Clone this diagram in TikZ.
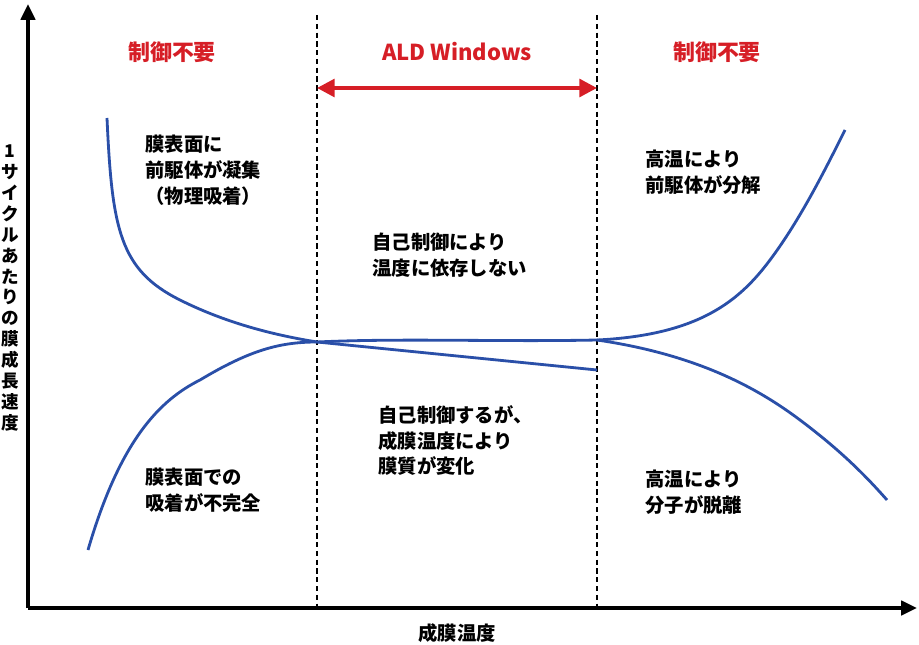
\documentclass[tikz,border=0pt]{standalone}
\usepackage{fontspec}
\setmainfont{Noto Sans CJK JP}
\usetikzlibrary{arrows.meta}
\definecolor{curveblue}{RGB}{42,79,168}
\definecolor{ctrlred}{RGB}{214,30,38}
\begin{document}
\begin{tikzpicture}[x=0.02cm,y=-0.02cm,
	axis/.style={line width=2.2pt,-{Triangle[length=9pt,width=8pt]}},
	window/.style={densely dashed,line width=0.8pt},
	curve/.style={curveblue,line width=1.6pt},
	note/.style={align=left,anchor=north west,font=\fontsize{11}{14.7}\selectfont\bfseries,inner sep=0pt},
	head/.style={ctrlred,font=\fontsize{12.5}{14}\selectfont\bfseries}]
\useasboundingbox (0,0) rectangle (919,645);
% axes
\coordinate (O) at (28,608);
\coordinate (Ytop) at (28,4);
\coordinate (Xend) at (917,608);
\draw[axis] (O) -- (Ytop);
\draw[axis] (O) -- (Xend);
% window borders
\coordinate (L1) at (317,15);
\coordinate (L2) at (317,608);
\coordinate (R1) at (597,15);
\coordinate (R2) at (597,608);
\draw[window] (L1) -- (L2);
\draw[window] (R1) -- (R2);
\coordinate (WA) at (317,88);
\coordinate (WB) at (597,88);
\draw[ctrlred,line width=2.2pt,{Triangle[length=10pt,width=10pt]}-{Triangle[length=10pt,width=10pt]}] (WA) -- (WB);
% labels
\node[head] (h1) at (172,52) {制御不要};
\node[head] (h2) at (457,52) {ALD Windows};
\node[head] (h3) at (717,52) {制御不要};
\node[align=center,font=\fontsize{10}{11.9}\selectfont\bfseries] (ylab) at (10,288)
	{1\\サ\\イ\\ク\\ル\\あ\\た\\り\\の\\膜\\成\\長\\速\\度};
\node[font=\fontsize{11}{13}\selectfont\bfseries] (xlab) at (457,633) {成膜温度};
% curves
\coordinate (P) at (317,342);
\coordinate (Q) at (597,340);
\draw[curve] (107,118) .. controls (112,230) and (120,270) .. (180,300)
	.. controls (230,325) and (280,336) .. (P) -- (597,370);
\draw[curve] (88,550) .. controls (120,440) and (160,400) .. (200,380)
	.. controls (250,350) and (280,342) .. (P);
\draw[curve] (P) .. controls (400,338) and (500,342) .. (Q);
\draw[curve] (Q) .. controls (700,335) and (740,300) .. (770,260)
	.. controls (800,220) and (825,170) .. (845,130);
\draw[curve] (Q) .. controls (700,355) and (760,390) .. (800,420)
	.. controls (840,450) and (865,475) .. (887,500);
% notes
\node[note] (n1) at (145,135) {膜表面に\\前駆体が凝集\\（物理吸着）};
\node[note] (n2) at (372,233) {自己制御により\\温度に依存しない};
\node[note] (n3) at (645,150) {高温により\\前駆体が分解};
\node[note] (n4) at (378,405) {自己制御するが、\\成膜温度により\\膜質が変化};
\node[note] (n5) at (145,468) {膜表面での\\吸着が不完全};
\node[note] (n6) at (645,470) {高温により\\分子が脱離};
\end{tikzpicture}
\end{document}
